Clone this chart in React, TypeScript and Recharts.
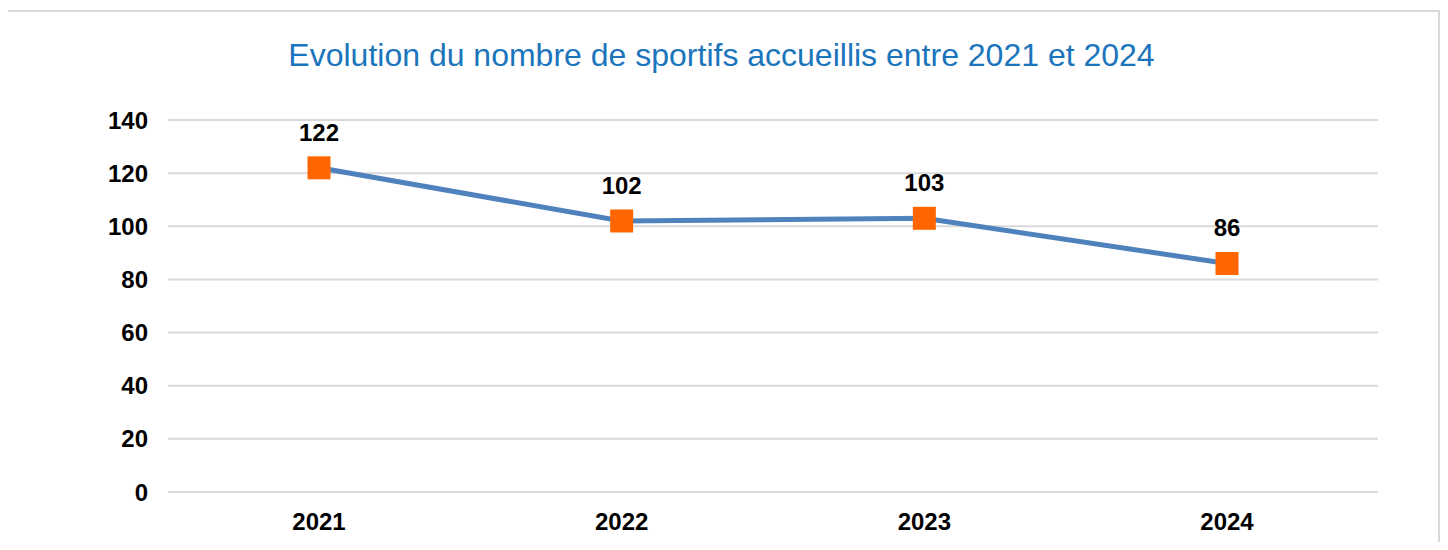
import { CartesianGrid, LabelList, Line, LineChart, XAxis, YAxis } from 'recharts';

const years = ['2021', '2022', '2023', '2024'];
const sportifs = [122, 102, 103, 86];
const yTicks = [0, 20, 40, 60, 80, 100, 120, 140];

const data = years.map((year, i) => ({ year, value: sportifs[i] }));

const FONT = '"Liberation Sans", Arial, sans-serif';

function SquareDot(props: any) {
  const { cx, cy } = props;
  if (cx == null || cy == null) return null;
  const s = 23;
  return <rect x={cx - s / 2} y={cy - s / 2} width={s} height={s} fill="#FF6600" />;
}

export default function App() {
  return (
    <div style={{ position: 'relative', margin: -8, width: 1448, height: 550, overflow: 'hidden', background: '#fff' }}>
      <div
        style={{
          position: 'absolute',
          left: 4,
          top: 10,
          width: 1436,
          height: 600,
          boxSizing: 'border-box',
          border: '2px solid #d9d9d9',
        }}
      />
      <div
        style={{
          position: 'absolute',
          left: 0,
          top: 39,
          width: 1443,
          textAlign: 'center',
          fontFamily: FONT,
          fontSize: 32,
          lineHeight: '32px',
          color: '#1B75BC',
        }}
      >
        Evolution du nombre de sportifs accueillis entre 2021 et 2024
      </div>
      <div style={{ position: 'absolute', left: 0, top: 0 }}>
        <LineChart width={1448} height={550} data={data} margin={{ top: 120, right: 70, bottom: 18, left: 108 }}>
          <CartesianGrid vertical={false} stroke="#d9d9d9" strokeWidth={2} />
          <XAxis
            dataKey="year"
            axisLine={false}
            tickLine={false}
            tickSize={0}
            tickMargin={21}
            height={40}
            interval={0}
            padding={{ left: 151, right: 151 }}
            tick={{ fill: '#000', fontSize: 24, fontWeight: 'bold', fontFamily: FONT }}
          />
          <YAxis
            domain={[0, 140]}
            ticks={yTicks}
            axisLine={false}
            tickLine={false}
            tickSize={0}
            tickMargin={20}
            width={60}
            tick={{ fill: '#000', fontSize: 24, fontWeight: 'bold', fontFamily: FONT }}
          />
          <Line
            type="linear"
            dataKey="value"
            stroke="#4F81BD"
            strokeWidth={5}
            dot={<SquareDot />}
            activeDot={false}
            isAnimationActive={false}
          >
            <LabelList
              dataKey="value"
              position="top"
              offset={27}
              fill="#000"
              fontSize={24}
              fontWeight="bold"
              fontFamily={FONT}
            />
          </Line>
        </LineChart>
      </div>
    </div>
  );
}
